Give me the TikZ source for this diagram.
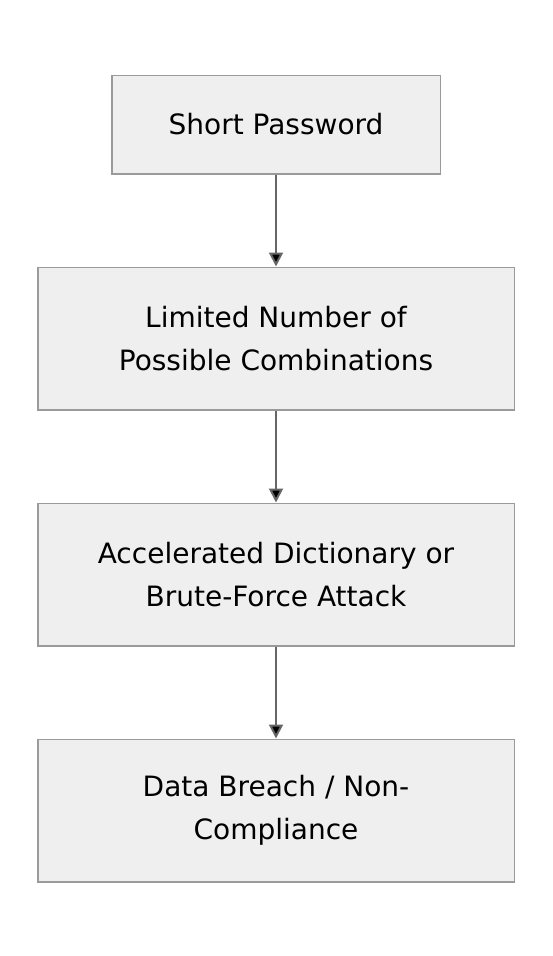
\documentclass[tikz,border=0pt]{standalone}
\usepackage{fontspec}
\setmainfont{DejaVu Sans}
\usetikzlibrary{arrows.meta,positioning}

\definecolor{boxfill}{HTML}{EFEFEF}
\definecolor{boxline}{HTML}{9A9A9A}
\definecolor{arrowgray}{HTML}{666666}

\begin{document}
\begin{tikzpicture}[x=1pt,y=1pt,
                    ->,>={Triangle[length=14pt,width=14pt]},
                    node distance=92pt]
  \tikzstyle{every node}=[font=\fontsize{28}{43}\selectfont]
  \tikzstyle{stagebox}=[draw=boxline,fill=boxfill,line width=1.5pt,
                        align=center,inner sep=0pt,
                        minimum width=476.5pt,minimum height=142.5pt]
  \tikzstyle{flow}=[draw=arrowgray,line width=2pt]

  \useasboundingbox (0,0) rectangle (552,-956);

  \node[stagebox,minimum width=328.5pt,minimum height=98.5pt]
                  (short)  at (276,-124.5)  {Short Password};
  \node[stagebox] (combos) [below=of short]  {Limited Number of\\Possible Combinations};
  \node[stagebox] (attack) [below=of combos] {Accelerated Dictionary or\\Brute-Force Attack};
  \node[stagebox] (breach) [below=of attack] {Data Breach / Non-\\Compliance};

  \path[flow] (short)  edge (combos)
              (combos) edge (attack)
              (attack) edge (breach);
\end{tikzpicture}
\end{document}
